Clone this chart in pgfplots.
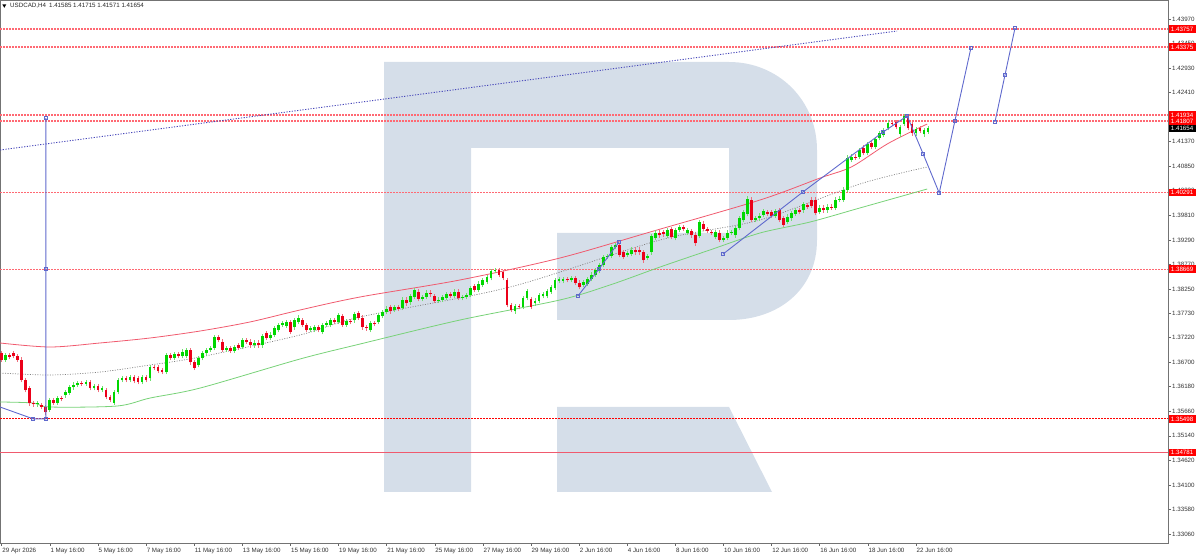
\documentclass[border=0pt]{standalone}
\usepackage{pgfplots}
\pgfplotsset{compat=1.18}
\usepackage{pgfplotstable}
\usepackage{fontspec}
\setmainfont{Liberation Sans}
\definecolor{bull}{RGB}{0,215,0}
\definecolor{bear}{RGB}{235,0,25}
\definecolor{bullw}{RGB}{110,225,110}
\definecolor{bearw}{RGB}{240,110,125}
\definecolor{logo}{RGB}{213,222,233}
\definecolor{fc}{RGB}{95,105,205}
\definecolor{lvl}{RGB}{255,105,115}
\definecolor{bandr}{RGB}{240,90,110}
\definecolor{bandg}{RGB}{120,210,120}
\definecolor{trend}{RGB}{70,70,185}
\newcommand{\sm}{\fontsize{6.2bp}{7bp}\selectfont}
\pgfplotsset{
  colormap={wickcm}{color=(bearw) color=(bullw)},
  colormap={bodycm}{color=(bear) color=(bull)},
  lvlline/.style={draw=lvl, line width=1.2bp, dash pattern=on 1.5bp off 1.5bp},
}
\pgfplotstableread{
j o c d
0 1.3689 1.3675 0
1 1.3675 1.3685 1
2 1.3685 1.3681 0
3 1.3689 1.3683 0
4 1.3683 1.3675 0
5 1.3675 1.3632 0
6 1.3632 1.3611 0
7 1.3615 1.3583 0
8 1.3583 1.3581 0
9 1.3581 1.3583 1
10 1.3579 1.3575 0
11 1.3575 1.3564 0
12 1.3569 1.3590 1
13 1.3590 1.3585 0
14 1.3585 1.3594 1
15 1.3594 1.3592 0
16 1.3600 1.3607 1
17 1.3605 1.3617 1
18 1.3617 1.3622 1
19 1.3622 1.3626 1
20 1.3626 1.3624 0
21 1.3624 1.3628 1
22 1.3628 1.3615 0
23 1.3615 1.3619 1
24 1.3619 1.3611 0
25 1.3611 1.3615 1
26 1.3611 1.3596 0
27 1.3596 1.3590 0
28 1.3585 1.3607 1
29 1.3607 1.3632 1
30 1.3632 1.3636 1
31 1.3636 1.3632 0
32 1.3632 1.3638 1
33 1.3638 1.3630 0
34 1.3636 1.3628 0
35 1.3628 1.3638 1
36 1.3638 1.3632 0
37 1.3636 1.3660 1
38 1.3660 1.3658 0
39 1.3660 1.3651 0
40 1.3653 1.3649 0
41 1.3649 1.3685 1
42 1.3685 1.3679 0
43 1.3679 1.3687 1
44 1.3687 1.3683 0
45 1.3683 1.3692 1
46 1.3683 1.3696 1
47 1.3696 1.3670 0
48 1.3670 1.3658 0
49 1.3664 1.3679 1
50 1.3679 1.3689 1
51 1.3689 1.3696 1
52 1.3696 1.3700 1
53 1.3700 1.3723 1
54 1.3723 1.3717 0
55 1.3713 1.3696 0
56 1.3696 1.3700 1
57 1.3700 1.3694 0
58 1.3694 1.3702 1
59 1.3706 1.3700 0
60 1.3702 1.3717 1
61 1.3717 1.3713 0
62 1.3713 1.3706 0
63 1.3706 1.3711 1
64 1.3711 1.3706 0
65 1.3706 1.3725 1
66 1.3732 1.3721 0
67 1.3721 1.3728 1
68 1.3728 1.3742 1
69 1.3738 1.3749 1
70 1.3749 1.3753 1
71 1.3747 1.3755 1
72 1.3755 1.3734 0
73 1.3744 1.3759 1
74 1.3755 1.3764 1
75 1.3759 1.3749 0
76 1.3749 1.3738 0
77 1.3738 1.3742 1
78 1.3738 1.3744 1
79 1.3744 1.3738 0
80 1.3734 1.3749 1
81 1.3749 1.3753 1
82 1.3749 1.3759 1
83 1.3759 1.3755 0
84 1.3755 1.3770 1
85 1.3768 1.3749 0
86 1.3749 1.3757 1
87 1.3757 1.3755 0
88 1.3759 1.3772 1
89 1.3774 1.3764 0
90 1.3764 1.3744 0
91 1.3744 1.3742 0
92 1.3738 1.3753 1
93 1.3753 1.3751 0
94 1.3755 1.3770 1
95 1.3768 1.3776 1
96 1.3776 1.3783 1
97 1.3787 1.3778 0
98 1.3781 1.3787 1
99 1.3787 1.3783 0
100 1.3785 1.3802 1
101 1.3802 1.3795 0
102 1.3797 1.3810 1
103 1.3808 1.3823 1
104 1.3819 1.3804 0
105 1.3804 1.3808 1
106 1.3808 1.3817 1
107 1.3817 1.3814 0
108 1.3810 1.3800 0
109 1.3800 1.3802 1
110 1.3802 1.3808 1
111 1.3806 1.3814 1
112 1.3814 1.3810 0
113 1.3810 1.3819 1
114 1.3819 1.3806 0
115 1.3806 1.3808 1
116 1.3808 1.3812 1
117 1.3812 1.3827 1
118 1.3831 1.3823 0
119 1.3823 1.3836 1
120 1.3834 1.3844 1
121 1.3840 1.3850 1
122 1.3848 1.3863 1
123 1.3863 1.3865 1
124 1.3865 1.3855 0
125 1.3861 1.3848 0
126 1.3844 1.3791 0
127 1.3791 1.3781 0
128 1.3778 1.3789 1
129 1.3789 1.3787 0
130 1.3787 1.3806 1
131 1.3806 1.3821 1
132 1.3804 1.3787 0
133 1.3795 1.3800 1
134 1.3800 1.3812 1
135 1.3810 1.3814 1
136 1.3810 1.3821 1
137 1.3819 1.3829 1
138 1.3827 1.3844 1
139 1.3842 1.3846 1
140 1.3842 1.3846 1
141 1.3846 1.3844 0
142 1.3844 1.3848 1
143 1.3848 1.3838 0
144 1.3838 1.3829 0
145 1.3834 1.3840 1
146 1.3836 1.3846 1
147 1.3846 1.3855 1
148 1.3855 1.3865 1
149 1.3863 1.3876 1
150 1.3876 1.3893 1
151 1.3893 1.3895 1
152 1.3895 1.3914 1
153 1.3914 1.3918 1
154 1.3918 1.3897 0
155 1.3903 1.3893 0
156 1.3897 1.3901 1
157 1.3899 1.3908 1
158 1.3908 1.3903 0
159 1.3908 1.3903 0
160 1.3903 1.3886 0
161 1.3891 1.3895 1
162 1.3903 1.3937 1
163 1.3933 1.3944 1
164 1.3944 1.3939 0
165 1.3946 1.3941 0
166 1.3937 1.3950 1
167 1.3952 1.3935 0
168 1.3933 1.3950 1
169 1.3950 1.3956 1
170 1.3956 1.3952 0
171 1.3944 1.3950 1
172 1.3948 1.3939 0
173 1.3939 1.3922 0
174 1.3937 1.3967 1
175 1.3963 1.3952 0
176 1.3952 1.3948 0
177 1.3946 1.3944 0
178 1.3935 1.3946 1
179 1.3944 1.3929 0
180 1.3929 1.3933 1
181 1.3933 1.3944 1
182 1.3944 1.3946 1
183 1.3939 1.3954 1
184 1.3954 1.3975 1
185 1.3971 1.3988 1
186 1.3984 1.4016 1
187 1.4014 1.3971 0
188 1.3971 1.3975 1
189 1.3975 1.3980 1
190 1.3982 1.3990 1
191 1.3988 1.3984 0
192 1.3988 1.3980 0
193 1.3980 1.3990 1
194 1.3992 1.3971 0
195 1.3975 1.3961 0
196 1.3967 1.3978 1
197 1.3975 1.3986 1
198 1.3984 1.3992 1
199 1.3992 1.3988 0
200 1.3992 1.4005 1
201 1.4003 1.3999 0
202 1.4014 1.4001 0
203 1.4014 1.3986 0
204 1.3988 1.3997 1
205 1.3997 1.3992 0
206 1.3992 1.3999 1
207 1.3999 1.3997 0
208 1.3997 1.4014 1
209 1.4014 1.4016 1
210 1.4014 1.4035 1
211 1.4035 1.4103 1
212 1.4098 1.4105 1
213 1.4105 1.4103 0
214 1.4105 1.4119 1
215 1.4124 1.4113 0
216 1.4113 1.4132 1
217 1.4134 1.4126 0
218 1.4126 1.4143 1
219 1.4145 1.4155 1
220 1.4151 1.4162 1
221 1.4166 1.4177 1
222 1.4177 1.4175 0
223 1.4179 1.4168 0
224 1.4153 1.4168 1
225 1.4175 1.4190 1
226 1.4187 1.4166 0
227 1.4173 1.4155 0
228 1.4155 1.4164 1
229 1.4166 1.4160 0
230 1.4153 1.4162 1
231 1.41585 1.41654 1
}\candles
\begin{document}
\begin{tikzpicture}
\useasboundingbox (0,0) rectangle (1200bp,555bp);
% watermark logo (pixel frame, y downwards)
\begin{scope}[x=1bp,y=-1bp,shift={(0,-555)}]
\fill[logo] (384,62) -- (729,62) .. controls (778,62) and (817,100) .. (817,150)
  -- (817,240) .. controls (817,290) and (778,320) .. (729,320) -- (557,320)
  -- (557,233) -- (729,233) -- (729,148) -- (471,148) -- (471,492) -- (384,492) -- cycle;
\fill[logo] (557,407) -- (729,407) -- (772,492) -- (557,492) -- cycle;
\end{scope}
\begin{axis}[
  at={(0,12bp)}, anchor=south west,
  scale only axis, width=1168bp, height=543bp,
  xmin=-0.424, xmax=290.85, ymin=1.32869, ymax=1.44372,
  clip mode=individual,
  point meta min=0, point meta max=1,
  axis line style={draw=black!55, line width=0.7bp},
  tick style={draw=black!60, line width=0.5bp},
  tick align=outside, major tick length=3bp,
  xtick pos=bottom, ytick pos=right, yticklabel pos=right,
  xtick={0,12,...,228},
  xticklabels={29 Apr 2026,1 May 16:00,5 May 16:00,7 May 16:00,11 May 16:00,13 May 16:00,15 May 16:00,19 May 16:00,21 May 16:00,25 May 16:00,27 May 16:00,29 May 16:00,2 Jun 16:00,4 Jun 16:00,8 Jun 16:00,10 Jun 16:00,12 Jun 16:00,16 Jun 16:00,18 Jun 16:00,22 Jun 16:00},
  xticklabel style={font=\sm, text=black!80, anchor=north west, inner sep=0pt, xshift=0.5bp, yshift=-1.5bp},
  ytick={1.33060,1.33580,1.34100,1.34620,1.35140,1.35660,1.36180,1.36700,1.37220,1.37730,1.38250,1.38770,1.39290,1.39810,1.40330,1.40850,1.41370,1.41890,1.42410,1.42930,1.43450,1.43970},
  yticklabels={1.33060,1.33580,1.34100,1.34620,1.35140,1.35660,1.36180,1.36700,1.37220,1.37730,1.38250,1.38770,1.39290,1.39810,1.40330,1.40850,1.41370,1.41890,1.42410,1.42930,1.43450,1.43970},
  yticklabel style={font=\sm, text=black!80, anchor=west, inner sep=0pt, xshift=1bp},
]
% level lines
\addplot[lvlline] coordinates {(-0.424,1.43757) (290.85,1.43757)};
\addplot[lvlline] coordinates {(-0.424,1.43375) (290.85,1.43375)};
\addplot[lvlline] coordinates {(-0.424,1.41934) (290.85,1.41934)};
\addplot[lvlline] coordinates {(-0.424,1.41807) (290.85,1.41807)};
\addplot[lvlline] coordinates {(-0.424,1.40291) (290.85,1.40291)};
\addplot[lvlline] coordinates {(-0.424,1.38669) (290.85,1.38669)};
\addplot[draw=red, line width=1.1bp, dash pattern=on 2bp off 1bp] coordinates {(-0.424,1.35498) (290.85,1.35498)};
\addplot[draw=bandr, line width=1.1bp] coordinates {(-0.424,1.34781) (290.85,1.34781)};
% trend dotted
\addplot[draw=trend, line width=0.9bp, dash pattern=on 1.2bp off 1.5bp] coordinates {(-0.42,1.41194) (223.3,1.43715)};
% bands
\addplot[draw=bandr, line width=0.8bp, smooth] coordinates {(-0.42,1.37106) (12.05,1.37021) (24.5,1.37106) (37.0,1.37212) (49.5,1.37360) (61.9,1.37551) (74.4,1.37805) (89.4,1.38081) (114.3,1.38441) (139.2,1.38906) (161.7,1.39457) (189.1,1.40135) (204.1,1.40601) (212.0,1.40840) (221.0,1.41330) (230.8,1.41745)};
\addplot[draw=bandg, line width=0.8bp, smooth] coordinates {(-0.42,1.35856) (7.8,1.35835) (12.05,1.35750) (28.8,1.35771) (37.0,1.35940) (49.5,1.36152) (74.4,1.36767) (89.4,1.37085) (114.3,1.37593) (139.2,1.38017) (151.7,1.38335) (164.2,1.38716) (176.6,1.39076) (189.1,1.39436) (201.6,1.39669) (214.0,1.39966) (230.8,1.40368)};
\addplot[draw=gray, line width=0.7bp, dash pattern=on 1bp off 1.5bp, smooth] coordinates {(-0.42,1.36470) (12.05,1.36428) (24.5,1.36491) (37.0,1.36640) (49.5,1.36809) (74.4,1.37275) (89.4,1.37657) (126.8,1.38292) (164.2,1.39288) (189.1,1.39712) (214.0,1.40474) (230.8,1.40834)};
% candles: wicks
\addplot[colormap name=wickcm, point meta={\thisrow{d}}, line width=0.8bp,
  quiver={u=0, v={abs(\thisrow{c}-\thisrow{o})+0.0010}, colored, every arrow/.append style={-}}]
  table[x=j, y expr={min(\thisrow{o},\thisrow{c})-0.0005}] {\candles};
% candles: bodies
\addplot[colormap name=bodycm, point meta={\thisrow{d}}, line width=2.8bp,
  quiver={u=0, v={abs(\thisrow{c}-\thisrow{o})+0.0001}, colored, every arrow/.append style={-}}]
  table[x=j, y expr={min(\thisrow{o},\thisrow{c})-0.00005}] {\candles};
% forecast paths
\addplot[draw=fc, line width=0.9bp, mark=square, mark size=1.3bp, mark options={fill=white, solid}, mark indices={2,3,4,5}] coordinates {(-0.42,1.35750) (7.81,1.35500) (11,1.35500) (11,1.38669) (11,1.41870)};
\addplot[draw=fc, line width=0.9bp, mark=square, mark size=1.3bp, mark options={fill=white}] coordinates {(143.7,1.38102) (148.95,1.38674) (153.95,1.39245)};
\addplot[draw=fc, line width=0.9bp, mark=square, mark size=1.3bp, mark options={fill=white}] coordinates {(179.9,1.38991) (199.8,1.40305) (219.8,1.41576) (225.8,1.41915) (229.8,1.41110) (233.8,1.40284) (237.7,1.41809) (241.7,1.43355)};
\addplot[draw=fc, line width=0.9bp, mark=square, mark size=1.3bp, mark options={fill=white}] coordinates {(247.7,1.41788) (250.2,1.42783) (252.7,1.43779)};
\coordinate (L1) at (axis cs:290.85,1.43757);
\coordinate (L2) at (axis cs:290.85,1.43375);
\coordinate (L3) at (axis cs:290.85,1.41934);
\coordinate (L4) at (axis cs:290.85,1.41807);
\coordinate (L5) at (axis cs:290.85,1.41654);
\coordinate (L6) at (axis cs:290.85,1.40291);
\coordinate (L7) at (axis cs:290.85,1.38669);
\coordinate (L8) at (axis cs:290.85,1.35498);
\coordinate (L9) at (axis cs:290.85,1.34781);
\end{axis}
\tikzset{pbox/.style={anchor=west, font=\sm, text=white, inner xsep=2.2bp, inner ysep=0pt, minimum height=7.5bp, xshift=0.5bp}}
\node[pbox, fill=red] at (L1) {1.43757};
\node[pbox, fill=red] at (L2) {1.43375};
\node[pbox, fill=red] at (L3) {1.41934};
\node[pbox, fill=red] at (L4) {1.41807};
\node[pbox, fill=black] at (L5) {1.41654};
\node[pbox, fill=red] at (L6) {1.40291};
\node[pbox, fill=red] at (L7) {1.38669};
\node[pbox, fill=red] at (L8) {1.35498};
\node[pbox, fill=red] at (L9) {1.34781};
% header
\begin{scope}[x=1bp,y=-1bp,shift={(0,-555)}]
\fill[black] (2.3,4.3) -- (6.3,4.3) -- (4.3,7.8) -- cycle;
\node[anchor=west, font=\sm, inner sep=0pt, text=black!85] at (10,6.2) {USDCAD,H4\enspace 1.41585 1.41715 1.41571 1.41654};
\end{scope}
\end{tikzpicture}
\end{document}
